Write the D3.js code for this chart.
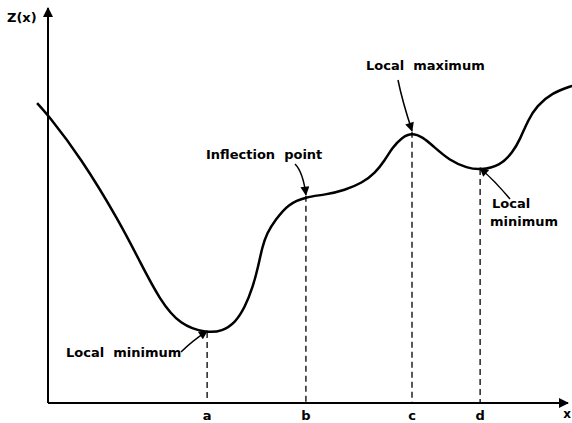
<!DOCTYPE html>
<html>
<head>
<meta charset="utf-8">
<script src="https://cdn.jsdelivr.net/npm/d3@7"></script>
<style>
  body { margin: 0; background: #fff; overflow: hidden; }
  text { font-family: "DejaVu Sans", sans-serif; font-weight: bold; fill: #000; }
</style>
</head>
<body>
<script>
// curve z(x) (axis units 0..100)
var curveX = [-2.1, 0, 6.2, 13.8, 17.7, 21.5, 25.4, 30.6, 33.5, 36.0, 37.9, 39.4, 40.4, 41.2, 42.1, 43.7, 46.2, 49.6, 53.3, 57.1, 60.4, 62.9, 64.8, 66.2, 68.1, 70, 72.1, 74.0, 77.3, 80.6, 83.1, 86.9, 89.4, 90.8, 92.3, 94.0, 96.9, 100.8];
var curveY = [75.9, 72.9, 62.3, 45.8, 35.7, 26.1, 19.7, 17.7, 18.2, 20.3, 24.3, 29.4, 34.4, 39.5, 43.0, 46.3, 50.4, 52.2, 52.7, 53.9, 55.7, 58.2, 61.5, 64.6, 67.3, 68.4, 67.3, 65.1, 61.3, 59.5, 59.0, 60.0, 63.5, 66.8, 71.6, 75.2, 78.5, 80.3];

// marked points on the x axis
var pointLabels = ["a", "b", "c", "d"];
var pointX = [30.6, 49.6, 70, 83.1];
var pointY = [17.7, 52.2, 68.4, 59.0];

var width = 572, height = 423;
var marginLeft = 48, marginTop = 8, marginBottom = 20;

var x = d3.scaleLinear()
        .domain([0, 100])
        .range([marginLeft, marginLeft + 520]);

var y = d3.scaleLinear()
        .domain([0, 100])
        .range([height - marginBottom, marginTop]);

var svg = d3.select("body").append("svg")
            .attr("width", width)
            .attr("height", height)
            .style("display", "block");

var defs = svg.append("defs");
defs.append("marker")
    .attr("id", "head")
    .attr("viewBox", "0 0 10 10")
    .attr("refX", 9)
    .attr("refY", 5)
    .attr("markerUnits", "userSpaceOnUse")
    .attr("markerWidth", 11)
    .attr("markerHeight", 9)
    .attr("orient", "auto")
  .append("path")
    .attr("d", "M0,0 L10,5 L0,10 Z")
    .attr("fill", "#000");

defs.append("marker")
    .attr("id", "axisHead")
    .attr("viewBox", "0 0 10 10")
    .attr("refX", 9)
    .attr("refY", 5)
    .attr("markerUnits", "userSpaceOnUse")
    .attr("markerWidth", 16)
    .attr("markerHeight", 10)
    .attr("orient", "auto")
  .append("path")
    .attr("d", "M0,0 L10,5 L0,10 Z")
    .attr("fill", "#000");

// axes
svg.append("line")
    .attr("x1", x(0)).attr("y1", y(0))
    .attr("x2", x(0)).attr("y2", y(100))
    .attr("stroke", "#000").attr("stroke-width", 2)
    .attr("marker-end", "url(#axisHead)");

svg.append("line")
    .attr("x1", x(0)).attr("y1", y(0))
    .attr("x2", x(100)).attr("y2", y(0))
    .attr("stroke", "#000").attr("stroke-width", 2)
    .attr("marker-end", "url(#axisHead)");

svg.append("text")
    .attr("x", 7).attr("y", 22)
    .attr("font-size", 13)
    .text("Z(x)");

svg.append("text")
    .attr("x", width - 1).attr("y", y(0) + 15)
    .attr("text-anchor", "end")
    .attr("font-size", 12)
    .text("x");

// drop lines + labels
var pts = pointLabels.map(function(l, i){ return {label: l, x: pointX[i], y: pointY[i]}; });

svg.selectAll(".drop")
    .data(pts)
    .enter()
    .append("line")
    .attr("class", "drop")
    .attr("x1", function(d){ return x(d.x); })
    .attr("x2", function(d){ return x(d.x); })
    .attr("y1", function(d){ return y(d.y) - 1; })
    .attr("y2", y(0))
    .attr("stroke", "#000")
    .attr("stroke-width", 1.3)
    .attr("stroke-dasharray", "6,4");

svg.selectAll(".ptlabel")
    .data(pts)
    .enter()
    .append("text")
    .attr("class", "ptlabel")
    .attr("x", function(d){ return x(d.x); })
    .attr("y", y(0) + 17)
    .attr("text-anchor", "middle")
    .attr("font-size", 13)
    .text(function(d){ return d.label; });

// the curve (b-spline smooths out reading noise)
var line = d3.line()
    .x(function(d){ return x(d[0]); })
    .y(function(d){ return y(d[1]); })
    .curve(d3.curveBasis);

svg.append("path")
    .datum(d3.zip(curveX, curveY))
    .attr("d", line)
    .attr("fill", "none")
    .attr("stroke", "#000")
    .attr("stroke-width", 2.5)
    .attr("stroke-linejoin", "round");

// annotations: label pos, arrow start, arrow bend
var notes = [
    { lines: ["Local  minimum"], tx: 66, ty: 357, from: [181, 352], bend: [192, 341], at: 0 },
    { lines: ["Inflection  point"], tx: 206, ty: 159, from: [295, 164], bend: [303, 172], at: 1 },
    { lines: ["Local  maximum"], tx: 366, ty: 70, from: [398, 80], bend: [402, 100], at: 2 },
    { lines: ["Local", "minimum"], tx: 492, ty: 208, from: [510, 199], bend: [496, 182], at: 3 }
];

notes.forEach(function(n){
    var t = svg.append("text")
        .attr("x", n.tx).attr("y", n.ty)
        .attr("font-size", 13)
        .style("white-space", "pre");
    n.lines.forEach(function(s, i){
        t.append("tspan")
            .attr("x", n.tx + (i > 0 ? -2 : 0))
            .attr("dy", i > 0 ? 18 : 0)
            .text(s);
    });
    var p = pts[n.at];
    var tx = x(p.x), ty = y(p.y) - 2;
    svg.append("path")
        .attr("d", "M" + n.from[0] + "," + n.from[1] + " Q" + n.bend[0] + "," + n.bend[1] + " " + tx + "," + ty)
        .attr("fill", "none")
        .attr("stroke", "#000")
        .attr("stroke-width", 1.5)
        .attr("marker-end", "url(#head)");
});
</script>
</body>
</html>
